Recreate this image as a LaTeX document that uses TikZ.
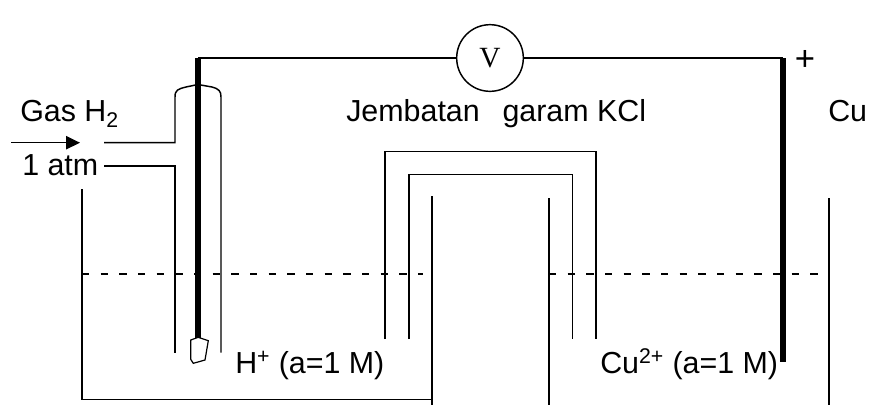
\documentclass[tikz,border=0pt]{standalone}
\usepackage{fontspec}
\setmainfont{Liberation Sans}
\newfontfamily\metersf{Liberation Serif}
\usepackage{tikz}
\usetikzlibrary{arrows.meta,calc}
\tikzset{
    lbl/.style={inner sep=0pt, anchor=base west, font=\fontsize{22.8}{27}\selectfont},
    wall/.style={line width=1.1pt},
    rod/.style={line width=#1},
    level/.style={line width=1.5pt, dash pattern=on 5.6pt off 8.4pt}
}

\begin{document}
\begin{tikzpicture}[x=0.75pt, y=-0.75pt]
    \useasboundingbox (0,0) rectangle (871,405);

    % Voltmeter and wire
    \node[draw, circle, wall, minimum size=50pt, inner sep=0pt, font=\metersf\fontsize{22}{26}\selectfont] (meter) at (490,58) {V};
    \coordinate (pt top) at (198,58);
    \coordinate (cu top) at (783,58);
    \draw[wall] (pt top) -- (meter) -- (cu top);

    % Hydrogen electrode
    \coordinate (pt end) at (198,338);
    \draw[rod=4pt] (pt top) -- (pt end);
    \draw[wall, line width=0.9pt] (190.7,340) -- (198.3,337.3) -- (208.3,340.7) -- (205,360) -- (193.3,363.3) -- (190.7,359.3) -- cycle;

    % Gas tube
    \draw[wall] (104,142.7) -- (175,142.7) -- (175,97) .. controls (175,90) and (178,89) .. (186,87) -- (198,84.5) -- (212,87) .. controls (219,89) and (221,91) .. (221,97) -- (221,352.7);
    \draw[wall] (104,166) -- (175,166) -- (175,352.7);
    \coordinate (gas in) at (11,142.7);
    \coordinate (gas out) at (80,142.7);
    \draw[wall, -{Triangle[length=10.5pt, width=10pt]}] (gas in) -- (gas out);

    % Copper electrode
    \coordinate (cu end) at (783,361.7);
    \draw[rod=5.2pt] (cu top) -- (cu end);

    % Beakers
    \draw[wall] (82,189) -- (82,399.5) -- (432,399.5);
    \draw[wall] (432,196) -- (432,405);
    \draw[wall] (549,198) -- (549,405);
    \draw[wall] (829,198) -- (829,405);

    % Salt bridge
    \draw[wall] (385,339) -- (385,151.7) -- (596,151.7) -- (596,339);
    \draw[wall] (409,339) -- (409,174.3) -- (572.3,174.3) -- (572.3,339);

    % Solution level
    \draw[level] (82,274) -- (423,274);
    \draw[level] (549,274) -- (829,274);

    % Labels
    \node[lbl] (gas) at (20,121.7) {Gas H\textsubscript{2}};
    \node[lbl] (press) at (22,175) {1 atm};
    \node[lbl] (bridge) at (346,121.7) {Jembatan\hspace{0.75em}garam KCl};
    \node[lbl] (cu) at (828,121.7) {Cu};
    \node[inner sep=0pt, font=\fontsize{26}{30}\selectfont] (plus) at (805,60) {+};
    \node[lbl] (hion) at (235,373.3) {H\textsuperscript{+} (a=1 M)};
    \node[lbl] (cuion) at (600,373.3) {Cu\textsuperscript{2+} (a=1 M)};
\end{tikzpicture}
\end{document}
